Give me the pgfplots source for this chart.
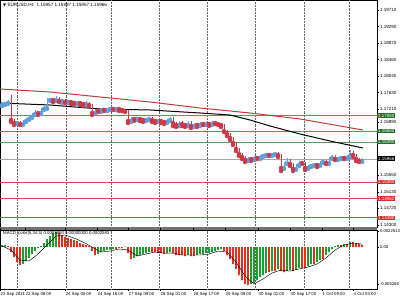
\documentclass[border=0pt]{standalone}
\usepackage{pgfplots}
\pgfplotsset{compat=1.18}
\usepackage{pgfplotstable}
\usepackage{fontspec}
\setmainfont{Liberation Sans}
\newfontfamily\dejavu{DejaVu Sans}
\definecolor{upc}{RGB}{95,160,220}
\definecolor{dnc}{RGB}{205,55,70}
\definecolor{mared}{RGB}{190,60,60}
\definecolor{lvgreen}{RGB}{85,155,85}
\definecolor{boxgreen}{RGB}{30,115,40}
\definecolor{lvred}{RGB}{205,75,75}
\definecolor{boxred}{RGB}{220,40,40}
\definecolor{hgreen}{RGB}{25,160,45}
\definecolor{hred}{RGB}{235,45,30}
\pgfplotstableread{
x o h l c
2 1.17319 1.17370 1.17294 1.17345
5 1.17345 1.17395 1.17319 1.17370
8 1.17370 1.17445 1.17345 1.17395
17 1.16866 1.16917 1.16841 1.16892
23 1.16841 1.16942 1.16816 1.16917
26 1.16917 1.16992 1.16892 1.16967
29 1.16967 1.17043 1.16942 1.17017
32 1.17017 1.17118 1.16992 1.17093
35 1.17093 1.17194 1.17068 1.17143
41 1.17118 1.17244 1.17093 1.17219
44 1.17219 1.17294 1.17194 1.17244
47 1.17244 1.17496 1.17219 1.17445
50 1.17445 1.17496 1.17420 1.17470
56 1.17445 1.17546 1.17420 1.17496
62 1.17420 1.17470 1.17370 1.17445
68 1.17395 1.17445 1.17370 1.17420
77 1.17370 1.17420 1.17345 1.17395
86 1.17345 1.17420 1.17319 1.17370
95 1.17118 1.17219 1.17093 1.17194
101 1.17168 1.17244 1.17143 1.17219
107 1.17194 1.17244 1.17168 1.17219
110 1.17219 1.17269 1.17194 1.17244
116 1.17219 1.17269 1.17194 1.17244
131 1.16917 1.17017 1.16892 1.16992
137 1.16967 1.17017 1.16942 1.16992
146 1.16942 1.16992 1.16917 1.16967
149 1.16967 1.17017 1.16942 1.16992
158 1.16917 1.16967 1.16892 1.16942
167 1.16892 1.16967 1.16866 1.16942
170 1.16942 1.17017 1.16917 1.16992
179 1.16816 1.16917 1.16791 1.16892
188 1.16816 1.16917 1.16791 1.16892
194 1.16791 1.16866 1.16766 1.16841
200 1.16816 1.16892 1.16791 1.16866
206 1.16841 1.16892 1.16816 1.16866
212 1.16841 1.16917 1.16816 1.16892
248 1.15935 1.16011 1.15910 1.15986
254 1.15960 1.16036 1.15935 1.16011
260 1.15986 1.16061 1.15960 1.16036
263 1.16036 1.16086 1.16011 1.16061
266 1.16061 1.16111 1.16036 1.16086
272 1.16061 1.16111 1.16036 1.16086
275 1.16086 1.16137 1.16061 1.16111
284 1.15734 1.15885 1.15709 1.15860
287 1.15860 1.15986 1.15835 1.15935
296 1.15709 1.15835 1.15684 1.15809
299 1.15809 1.15910 1.15784 1.15885
308 1.15734 1.15809 1.15709 1.15784
311 1.15784 1.15835 1.15759 1.15809
314 1.15809 1.15860 1.15784 1.15835
320 1.15809 1.15910 1.15784 1.15885
323 1.15885 1.15935 1.15860 1.15910
329 1.15860 1.16011 1.15835 1.15986
332 1.15986 1.16061 1.15960 1.16036
338 1.15960 1.16011 1.15935 1.15986
341 1.15986 1.16036 1.15960 1.16011
347 1.15986 1.16061 1.15960 1.16036
350 1.16036 1.16187 1.16011 1.16137
362 1.15910 1.15986 1.15885 1.15966
}\bulltab
\pgfplotstableread{
x o h l c
11 1.17395 1.17571 1.16892 1.16942
14 1.16942 1.16967 1.16816 1.16866
20 1.16892 1.16917 1.16816 1.16841
38 1.17143 1.17168 1.17068 1.17118
53 1.17470 1.17496 1.17395 1.17445
59 1.17496 1.17521 1.17395 1.17420
65 1.17445 1.17470 1.17370 1.17395
71 1.17420 1.17445 1.17345 1.17395
74 1.17395 1.17420 1.17345 1.17370
80 1.17395 1.17420 1.17319 1.17370
83 1.17370 1.17395 1.17294 1.17345
89 1.17370 1.17395 1.17294 1.17319
92 1.17319 1.17345 1.17068 1.17118
98 1.17194 1.17219 1.17143 1.17168
104 1.17219 1.17244 1.17168 1.17194
113 1.17244 1.17269 1.17194 1.17219
119 1.17244 1.17269 1.17168 1.17219
122 1.17219 1.17244 1.17168 1.17194
125 1.17194 1.17219 1.17143 1.17168
128 1.17168 1.17194 1.16866 1.16917
134 1.16992 1.17017 1.16917 1.16967
140 1.16992 1.17017 1.16917 1.16967
143 1.16967 1.16992 1.16892 1.16942
152 1.16992 1.17017 1.16892 1.16942
155 1.16942 1.16967 1.16866 1.16917
161 1.16942 1.16967 1.16866 1.16917
164 1.16917 1.16942 1.16841 1.16892
173 1.16992 1.17017 1.16791 1.16866
176 1.16866 1.16892 1.16766 1.16816
182 1.16892 1.16917 1.16791 1.16841
185 1.16841 1.16866 1.16766 1.16816
191 1.16892 1.16917 1.16741 1.16791
197 1.16841 1.16866 1.16766 1.16816
203 1.16866 1.16892 1.16816 1.16841
209 1.16866 1.16892 1.16791 1.16841
215 1.16892 1.16917 1.16841 1.16866
218 1.16866 1.16892 1.16816 1.16841
221 1.16841 1.16866 1.16766 1.16816
224 1.16816 1.16841 1.16640 1.16665
227 1.16665 1.16690 1.16539 1.16590
230 1.16590 1.16615 1.16439 1.16489
233 1.16489 1.16514 1.16313 1.16363
236 1.16363 1.16388 1.16162 1.16212
239 1.16212 1.16237 1.16036 1.16086
242 1.16086 1.16111 1.15960 1.16011
245 1.16011 1.16036 1.15885 1.15935
251 1.15986 1.16011 1.15910 1.15960
257 1.16011 1.16036 1.15960 1.15986
269 1.16086 1.16111 1.16036 1.16061
278 1.16111 1.16137 1.16011 1.16061
281 1.16061 1.16086 1.15658 1.15734
290 1.15935 1.15960 1.15784 1.15835
293 1.15835 1.15860 1.15658 1.15709
302 1.15885 1.15910 1.15835 1.15860
305 1.15860 1.15885 1.15684 1.15734
317 1.15835 1.15860 1.15759 1.15809
326 1.15910 1.15935 1.15835 1.15860
335 1.16036 1.16061 1.15935 1.15960
344 1.16011 1.16036 1.15960 1.15986
353 1.16137 1.16162 1.16011 1.16061
356 1.16061 1.16086 1.15910 1.15960
359 1.15960 1.15986 1.15885 1.15910
}\beartab
\begin{document}
\begin{tikzpicture}
\useasboundingbox (0pt,0pt) rectangle (400pt,300pt);
\begin{axis}[
  at={(0pt,300pt)}, anchor=north west, scale only axis,
  width=377pt, height=227pt,
  xmin=0, xmax=377, ymin=1.14249, ymax=1.19962,
  clip=false,
  axis line style={black, line width=0.5pt},
  xtick=\empty,
  ytick={1.19710,1.19290,1.18870,1.18460,1.18040,1.17630,1.17210,1.16890,1.15550,1.15130,1.14720,1.14300},
  yticklabels={1.19710,1.19290,1.18870,1.18460,1.18040,1.17630,1.17210,1.16890,1.15550,1.15130,1.14720,1.14300},
  yticklabel pos=right, tick align=outside, major tick length=2pt,
  ytick style={black, line width=0.4pt},
  yticklabel style={font=\fontsize{4.5}{5}\selectfont, inner xsep=1pt},
  scaled y ticks=false,
]
% vertical dotted grid
\pgfplotsinvokeforeach{17,66,111,159,207,255,304,349}{
  \addplot[black!60, densely dotted, line width=0.45pt] coordinates {(#1,1.14249)(#1,1.19962)};
}
% horizontal levels
\addplot[lvgreen, line width=0.7pt] coordinates {(0,1.17050)(377,1.17050)};
\addplot[lvgreen, line width=0.7pt] coordinates {(0,1.16660)(377,1.16660)};
\addplot[lvgreen, line width=0.7pt] coordinates {(0,1.16390)(377,1.16390)};
\addplot[lvred, line width=0.7pt] coordinates {(0,1.15380)(377,1.15380)};
\addplot[lvred, line width=0.7pt] coordinates {(0,1.14962)(377,1.14962)};
\addplot[lvred, line width=0.7pt] coordinates {(0,1.14480)(377,1.14480)};
\addplot[black!35, line width=0.4pt] coordinates {(0,1.15966)(377,1.15966)};
% moving averages
\addplot[mared, line width=1pt] coordinates {(0,1.17722)(50,1.17647)(100,1.17521)(150,1.17395)(200,1.17244)(250,1.17118)(300,1.16967)(363,1.16690)};
\addplot[black, line width=1pt] coordinates {(0,1.17370)(50,1.17319)(100,1.17219)(150,1.17194)(200,1.17118)(230,1.17068)(250,1.16942)(270,1.16791)(300,1.16590)(330,1.16413)(363,1.16237)};
% candles: wicks
\addplot[upc, only marks, mark=none, error bars/.cd, y dir=plus, y explicit, error mark=none,
  error bar style={draw=upc, line width=0.4pt}] table[x=x, y=l, y error expr=\thisrow{h}-\thisrow{l}] {\bulltab};
\addplot[dnc, only marks, mark=none, error bars/.cd, y dir=plus, y explicit, error mark=none,
  error bar style={draw=dnc, line width=0.4pt}] table[x=x, y=l, y error expr=\thisrow{h}-\thisrow{l}] {\beartab};
% candles: bodies
\addplot[upc, only marks, mark=none, error bars/.cd, y dir=plus, y explicit, error mark=none,
  error bar style={draw=upc, line width=1pt}] table[x=x, y=o, y error expr=\thisrow{c}-\thisrow{o}] {\bulltab};
\addplot[dnc, only marks, mark=none, error bars/.cd, y dir=plus, y explicit, error mark=none,
  error bar style={draw=dnc, line width=1pt}] table[x=x, y=c, y error expr=\thisrow{o}-\thisrow{c}] {\beartab};
% price boxes
\tikzset{pbox/.style={anchor=west, text=white, inner xsep=1pt, inner ysep=0.7pt, font=\fontsize{4.5}{5}\selectfont}}
\node[pbox, fill=boxgreen] at (axis cs:377,1.17050) {1.17050};
\node[pbox, fill=boxgreen] at (axis cs:377,1.16660) {1.16660};
\node[pbox, fill=boxgreen] at (axis cs:377,1.16390) {1.16390};
\node[pbox, fill=black] at (axis cs:377,1.15966) {1.15966};
\node[pbox, fill=boxred] at (axis cs:377,1.15380) {1.15380};
\node[pbox, fill=boxred] at (axis cs:377,1.14962) {1.14962};
\node[pbox, fill=boxred] at (axis cs:377,1.14480) {1.14480};
\end{axis}
\fill[black!55] (0pt,70pt) rectangle (377pt,73pt);
\node[anchor=west, inner sep=0pt, font=\fontsize{4.6}{5}\selectfont] at (3pt,295pt) {{\dejavu\fontsize{4}{5}\selectfont ▼} EURUSD,H1\ \ 1.15957 1.15997 1.15957 1.15966};
\begin{axis}[
  at={(0pt,70pt)}, anchor=north west, scale only axis,
  width=377pt, height=59pt,
  xmin=0, xmax=377, ymin=-0.00594, ymax=0.00241,
  axis line style={black, line width=0.5pt},
  xtick={0,25,65,97,128,160,193,225,258,290,322,353},
  xticklabels={22 Sep 2021,22 Sep 08:00,24 Sep 00:00,24 Sep 16:00,27 Sep 09:00,28 Sep 01:00,28 Sep 17:00,29 Sep 09:00,30 Sep 01:00,30 Sep 17:00,1 Oct 09:00,4 Oct 03:00},
  xticklabel style={font=\fontsize{4.3}{5}\selectfont, anchor=north west, inner xsep=0.5pt, inner ysep=1pt},
  tick align=outside, major tick length=2pt,
  tick style={black, line width=0.4pt},
  ytick={0.0022513,0,-0.005266},
  yticklabels={0.0022513,0.00,-0.005266},
  yticklabel pos=right,
  yticklabel style={font=\fontsize{4.2}{5}\selectfont, inner xsep=0.8pt},
  scaled y ticks=false,
]
\pgfplotsinvokeforeach{17,66,111,159,207,255,304,349}{
  \addplot[black!60, densely dotted, line width=0.45pt] coordinates {(#1,-0.00594)(#1,0.00241)};
}
\addplot[ybar, bar width=1.9pt, bar shift=0pt, fill=hgreen, draw=none] coordinates {
(2,0.00028)(5,0.00028)(23,-0.00241)(26,-0.00198)(29,-0.00156)(32,-0.00099)(35,-0.00057)(38,-0.00014)(41,0.00014)(44,0.00057)(47,0.00113)(50,0.00156)(53,0.00198)(56,0.00212)(98,-0.00099)(101,-0.00071)(104,-0.00057)(107,-0.00042)(110,-0.00035)(113,-0.00028)(119,-0.00014)(125,0.00007)(134,-0.00156)(137,-0.00127)(140,-0.00113)(143,-0.00099)(146,-0.00085)(149,-0.00071)(167,-0.00085)(170,-0.00071)(188,-0.00113)(197,-0.00113)(200,-0.00099)(203,-0.00099)(206,-0.00085)(209,-0.00085)(212,-0.00071)(215,-0.00057)(218,-0.00042)(221,-0.00028)(251,-0.00524)(254,-0.00509)(257,-0.00467)(260,-0.00425)(263,-0.00396)(266,-0.00368)(272,-0.00340)(278,-0.00311)(287,-0.00340)(290,-0.00325)(296,-0.00325)(299,-0.00297)(308,-0.00269)(311,-0.00241)(317,-0.00212)(320,-0.00184)(326,-0.00113)(329,-0.00071)(332,-0.00028)(335,0.00014)(338,0.00028)(344,0.00042)(350,0.00071)};
\addplot[ybar, bar width=1.9pt, bar shift=0pt, fill=hred, draw=none] coordinates {
(8,0.00014)(11,-0.00071)(14,-0.00142)(17,-0.00212)(20,-0.00255)(59,0.00198)(62,0.00170)(65,0.00142)(68,0.00127)(71,0.00113)(74,0.00099)(77,0.00085)(80,0.00057)(83,0.00042)(86,0.00028)(89,0.00014)(92,-0.00057)(95,-0.00113)(116,-0.00028)(122,-0.00014)(128,-0.00085)(131,-0.00170)(152,-0.00071)(155,-0.00071)(158,-0.00085)(161,-0.00085)(164,-0.00099)(173,-0.00085)(176,-0.00113)(179,-0.00113)(182,-0.00113)(185,-0.00127)(191,-0.00127)(194,-0.00127)(224,-0.00057)(227,-0.00113)(230,-0.00170)(233,-0.00241)(236,-0.00311)(239,-0.00396)(242,-0.00467)(245,-0.00524)(248,-0.00538)(269,-0.00354)(275,-0.00340)(281,-0.00340)(284,-0.00354)(293,-0.00340)(302,-0.00297)(305,-0.00283)(314,-0.00241)(323,-0.00170)(341,0.00028)(347,0.00042)(353,0.00071)(356,0.00057)(359,0.00042)(362,0.00028)};
\addplot[black, line width=0.45pt] coordinates {
(2,0.00014)(11,-0.00042)(20,-0.00184)(29,-0.00198)(38,-0.00099)(47,0.00028)(56,0.00156)(65,0.00170)(74,0.00127)(83,0.00071)(92,0)(101,-0.00071)(110,-0.00057)(119,-0.00028)(128,-0.00042)(137,-0.00127)(146,-0.00099)(155,-0.00071)(164,-0.00085)(173,-0.00085)(182,-0.00113)(191,-0.00113)(200,-0.00113)(209,-0.00099)(218,-0.00057)(227,-0.00071)(236,-0.00212)(245,-0.00410)(254,-0.00524)(263,-0.00453)(272,-0.00368)(281,-0.00325)(290,-0.00340)(299,-0.00311)(308,-0.00283)(317,-0.00241)(326,-0.00156)(335,-0.00042)(344,0.00028)(353,0.00057)(362,0.00042)};
\end{axis}
\node[anchor=west, inner sep=0pt, font=\fontsize{4.3}{5}\selectfont] at (3pt,66.5pt) {MACD\_color(5,34,5) 0.0003860 0.00000000 0.0002583};
\end{tikzpicture}
\end{document}
